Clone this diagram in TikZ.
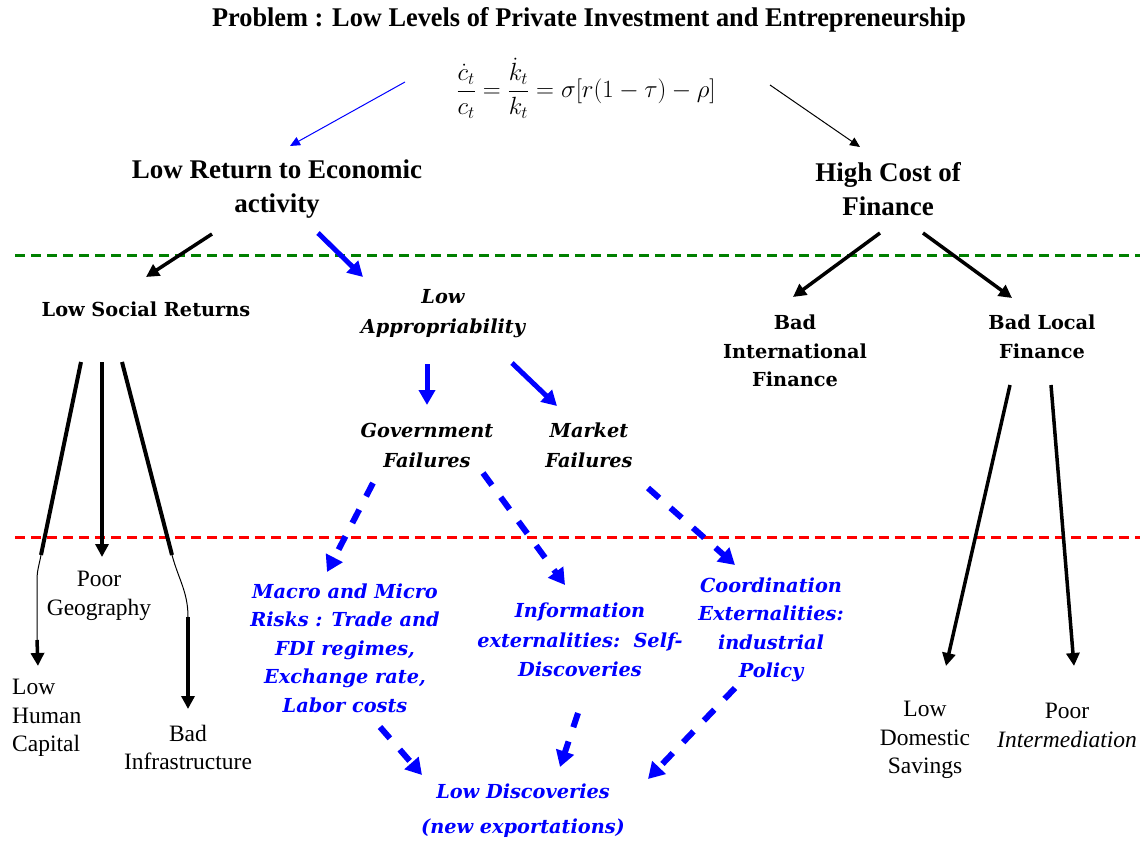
\documentclass[tikz,border=0pt]{standalone}
\usepackage{fontspec}
\setmainfont{Liberation Serif}
\newfontfamily\wideserif{DejaVu Serif}
\usetikzlibrary{arrows.meta}
\definecolor{dblue}{RGB}{0,0,255}
\definecolor{dgreen}{RGB}{0,128,0}
\definecolor{dred}{RGB}{255,0,0}
\tikzset{
  txt/.style={align=center, inner sep=0pt},
  bl/.style={txt, font=\wideserif\fontsize{19.3}{29}\selectfont\bfseries},
  bli/.style={txt, font=\wideserif\fontsize{19.3}{30}\selectfont\bfseries\itshape},
  blue/.style={txt, text=dblue, font=\wideserif\fontsize{19.3}{28.5}\selectfont\bfseries\itshape},
  reg/.style={txt, font=\fontsize{23.5}{28.5}\selectfont},
  big/.style={txt, font=\fontsize{27}{34}\selectfont\bfseries},
  thinarr/.style={line width=1pt, -{Triangle[width=9pt,length=10pt]}},
  thickarr/.style={line width=3.5pt, -{Triangle[width=13pt,length=13pt]}},
  bthick/.style={draw=dblue, line width=5pt, -{Triangle[width=16pt,length=15pt]}},
  bdash/.style={draw=dblue, line width=6pt, dash pattern=on 15pt off 15pt, -{Triangle[width=18pt,length=16pt]}},
  sep/.style={line width=3pt, dash pattern=on 10pt off 6pt},
}
\begin{document}
\begin{tikzpicture}[x=1pt,y=-1pt]
\useasboundingbox (0,0) rectangle (1146,842);
% separators
\draw[sep, dgreen] (15,256) -- (1140,256);
\draw[sep, dred] (15,537) -- (1140,537);
% texts
\node[txt, font=\fontsize{27}{30}\selectfont\bfseries] (title) at (589,20)
  {\scalebox{0.975}[1]{Problem : Low Levels of Private Investment and Entrepreneurship}};
\node[txt, font=\fontsize{24}{28}\selectfont] (eq) at (586,88)
  {$\displaystyle \frac{\dot c_t}{c_t}=\frac{\dot k_t}{k_t}=\sigma\bigl[r\bigl(1-\tau\bigr)-\rho\bigr]$};
\node[big] (lowret) at (277,189) {Low Return to Economic\\activity};
\node[big] (highcost) at (888,189) {High Cost of\\Finance};
\node[bl] (lsr) at (146,309) {Low Social Returns};
\node[bli] (lowapp) at (443,314) {Low\\Appropriability};
\node[bli] (gov) at (427,445) {Government\\Failures};
\node[bli] (mkt) at (589,445) {Market\\Failures};
\node[bl, font=\wideserif\fontsize{19.3}{28.5}\selectfont\bfseries] (badint) at (795,351) {Bad\\International\\Finance};
\node[bl] (badloc) at (1042,336.5) {Bad Local\\Finance};
\node[reg] (poorgeo) at (99,596) {Poor\\Geography};
\node[reg, align=left, anchor=west] (lowhum) at (12,718) {Low\\Human\\Capital};
\node[reg] (badinf) at (188,747.5) {Bad\\Infrastructure};
\node[blue] (macro) at (345,648) {Macro and Micro\\Risks : Trade and\\FDI regimes,\\Exchange rate,\\Labor costs};
\node[blue, font=\wideserif\fontsize{19.3}{29.5}\selectfont\bfseries\itshape] (info) at (580,640) {Information\\externalities:\ \ Self-\\Discoveries};
\node[blue] (coord) at (771,630) {Coordination\\Externalities:\\industrial\\Policy};
\node[blue, font=\wideserif\fontsize{19.3}{35}\selectfont\bfseries\itshape] (lowdisc) at (523,811) {Low Discoveries\\(new exportations)};
\node[reg] (lowdom) at (925,740) {Low\\Domestic\\Savings};
\node[reg] (poorint) at (1067,725.5) {Poor\\\textit{Intermediation}};
% coordinates
\coordinate (a1s) at (405,82);   \coordinate (a1e) at (290,146);
\coordinate (a2s) at (770,85);   \coordinate (a2e) at (860,147);
\coordinate (a3s) at (212,234);  \coordinate (a3e) at (146,277);
\coordinate (a4s) at (318,233);  \coordinate (a4e) at (363,277);
\coordinate (a5s) at (880,233);  \coordinate (a5e) at (793,297);
\coordinate (a6s) at (923,233);  \coordinate (a6e) at (1012,298);
\coordinate (h1) at (81,362); \coordinate (h2) at (41,555); \coordinate (h3) at (37,580); \coordinate (h4) at (37,640); \coordinate (h5) at (38,666);
\coordinate (g1) at (102,362); \coordinate (g2) at (102,557);
\coordinate (i1) at (122,362); \coordinate (i2) at (172,555); \coordinate (i3) at (188,617); \coordinate (i4) at (188,709);
\coordinate (ga) at (427,364); \coordinate (gb) at (427,405);
\coordinate (ma) at (512,363); \coordinate (mb) at (557,406);
\coordinate (d1s) at (373,483); \coordinate (d1e) at (327,572);
\coordinate (d2s) at (483,473); \coordinate (d2e) at (565,585);
\coordinate (d3s) at (648,488); \coordinate (d3e) at (735,565);
\coordinate (e1s) at (380,727); \coordinate (e1e) at (422,775);
\coordinate (e2s) at (578,713); \coordinate (e2e) at (560,767);
\coordinate (e3s) at (735,688); \coordinate (e3e) at (648,779);
\coordinate (f1s) at (1010,385); \coordinate (f1e) at (946,666);
\coordinate (f2s) at (1051,385); \coordinate (f2e) at (1074,666);
% arrows
\draw[thinarr, color=dblue] (a1s) -- (a1e);
\draw[thinarr] (a2s) -- (a2e);
\draw[thickarr] (a3s) -- (a3e);
\draw[bthick] (a4s) -- (a4e);
\draw[thickarr] (a5s) -- (a5e);
\draw[thickarr] (a6s) -- (a6e);
% low social returns branches
\draw[line width=4pt] (h1) -- (h2);
\draw[line width=1pt] (h2) to[out=-100,in=90] (h3) -- (h4);
\draw[thickarr] (h4) -- (h5);
\draw[thickarr] (g1) -- (g2);
\draw[line width=4pt] (i1) -- (i2);
\draw[line width=1pt] (i2) to[out=-75,in=90] (i3);
\draw[thickarr] (i3) -- (i4);
% appropriability
\draw[bthick] (ga) -- (gb);
\draw[bthick] (ma) -- (mb);
\draw[bdash] (d1s) -- (d1e);
\draw[bdash] (d2s) -- (d2e);
\draw[bdash] (d3s) -- (d3e);
\draw[bdash] (e1s) -- (e1e);
\draw[bdash] (e2s) -- (e2e);
\draw[bdash] (e3s) -- (e3e);
% finance
\draw[thickarr] (f1s) -- (f1e);
\draw[thickarr] (f2s) -- (f2e);
\end{tikzpicture}
\end{document}
